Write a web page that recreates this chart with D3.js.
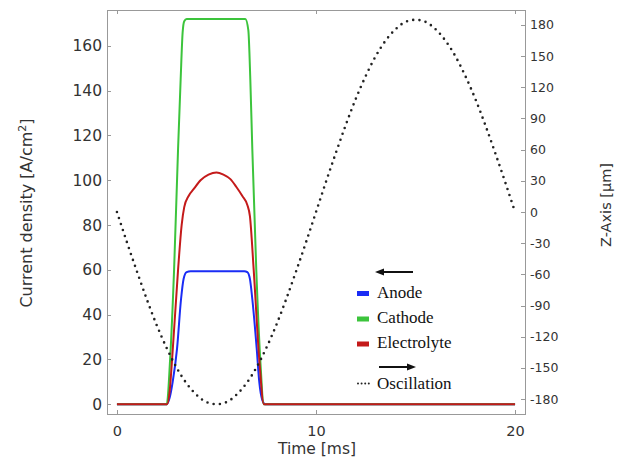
<!DOCTYPE html>
<html>
<head>
<meta charset="utf-8">
<script src="https://cdn.jsdelivr.net/npm/d3@7"></script>
<style>
  html, body { margin: 0; padding: 0; background: #fff; }
  svg { display: block; }
  .tick text { font-family: "DejaVu Sans", sans-serif; fill: #333; }
</style>
</head>
<body>
<svg id="chart" width="622" height="459"></svg>
<script>
// Current density series [A/cm²] over time [ms]
const anodeTime = [0, 2.5, 2.65, 2.8, 3.02, 3.22, 3.35, 3.5, 3.7, 6.4, 6.55, 6.68, 6.8, 7.02, 7.15, 7.3, 7.45, 20];
const anodeValues = [0, 0, 3, 10, 25, 47, 56, 59, 59.4, 59.4, 59, 56, 47, 25, 10, 2, 0, 0];

const cathodeTime = [0, 2.5, 2.67, 2.87, 3.07, 3.2, 3.3, 3.38, 3.5, 6.45, 6.6, 6.7, 6.8, 7.0, 7.2, 7.38, 20];
const cathodeValues = [0, 0, 20, 60, 114, 145, 166, 171, 172, 172, 167, 145, 114, 60, 20, 0, 0];

const electrolyteTime = [0, 2.52, 2.65, 2.77, 3.07, 3.25, 3.38, 3.6, 3.85, 4.2, 4.6, 5.0, 5.35, 5.7, 6.0, 6.3, 6.55, 6.68, 6.87, 7.15, 7.38, 20];
const electrolyteValues = [0, 0, 6, 20, 60, 80, 88, 93, 96, 100, 102.5, 103.5, 102.5, 100.5, 97, 93, 89, 84, 60, 20, 0, 0];

// Electrode oscillation, Z position [µm]
const oscTime = [0, 0.5, 1, 1.5, 2, 2.5, 3, 3.5, 4, 4.5, 5, 5.5, 6, 6.5, 7, 7.5, 8, 8.5, 9, 9.5, 10,
                 10.5, 11, 11.5, 12, 12.5, 13, 13.5, 14, 14.5, 15, 15.5, 16, 16.5, 17, 17.5, 18, 18.5, 19, 19.5, 20];
const oscZ = [0, -29, -57, -84, -109, -131, -150, -165, -176, -183, -185, -183, -176, -165, -150, -131, -109, -84, -57, -29, 0,
              29, 57, 84, 109, 131, 150, 165, 176, 183, 185, 183, 176, 165, 150, 131, 109, 84, 57, 29, 0];

// Tick values
const timeTicks = [0, 10, 20];
const currentTicks = [0, 20, 40, 60, 80, 100, 120, 140, 160];
const zTicks = [-180, -150, -120, -90, -60, -30, 0, 30, 60, 90, 120, 150, 180];

const seriesNames = ["Anode", "Cathode", "Electrolyte"];
const seriesColors = ["#1a2cf5", "#3cc43c", "#c41a1a"];

const svg = d3.select("#chart");
const plot = { left: 107, right: 525, top: 10, bottom: 414 };

const x = d3.scaleLinear().domain([-0.5, 20.5]).range([plot.left, plot.right]);
const y = d3.scaleLinear().domain([-4.33, 176]).range([plot.bottom, plot.top]);
const z = d3.scaleLinear().domain([-194.4, 194.4]).range([plot.bottom, plot.top]);

svg.append("rect").attr("width", 622).attr("height", 459).attr("fill", "#fff");

// Axes with inward ticks
const axisColor = "#999";
const plain = d => String(d);
function styleAxis(g) {
  g.select(".domain").remove();
  g.selectAll(".tick line").attr("stroke", axisColor).attr("shape-rendering", "crispEdges");
}

svg.append("g")
  .attr("transform", `translate(0,${plot.bottom})`)
  .call(d3.axisBottom(x).tickValues(timeTicks).tickFormat(plain).tickSize(-4).tickPadding(12))
  .call(styleAxis)
  .selectAll("text").attr("font-size", 14.5);

svg.append("g")
  .attr("transform", `translate(0,${plot.top})`)
  .call(d3.axisTop(x).tickValues(timeTicks).tickSize(-4).tickFormat(""))
  .call(styleAxis);

svg.append("g")
  .attr("transform", `translate(${plot.left},0)`)
  .call(d3.axisLeft(y).tickValues(currentTicks).tickFormat(plain).tickSize(-4).tickPadding(5))
  .call(styleAxis)
  .selectAll("text").attr("font-size", 15.5);

svg.append("g")
  .attr("transform", `translate(${plot.right},0)`)
  .call(d3.axisRight(z).tickValues(zTicks).tickFormat(plain).tickSize(-4).tickPadding(5))
  .call(styleAxis)
  .selectAll("text").attr("font-size", 12.5);

// Plot frame
svg.append("rect")
  .attr("x", plot.left + 0.5).attr("y", plot.top + 0.5)
  .attr("width", plot.right - plot.left).attr("height", plot.bottom - plot.top)
  .attr("fill", "none").attr("stroke", axisColor).attr("shape-rendering", "crispEdges");

// Axis titles
const title = svg.append("g").attr("font-family", "DejaVu Sans, sans-serif").attr("fill", "#333");
title.append("text")
  .attr("x", 317).attr("y", 454).attr("text-anchor", "middle").attr("font-size", 15.5)
  .text("Time [ms]");

const yTitle = title.append("text")
  .attr("transform", "translate(32,213) rotate(-90)")
  .attr("text-anchor", "middle").attr("font-size", 16);
yTitle.append("tspan").text("Current density [A/cm");
yTitle.append("tspan").attr("font-size", 11).attr("dy", -6).text("2");
yTitle.append("tspan").attr("dy", 6).text("]");

title.append("text")
  .attr("transform", "translate(611,205) rotate(-90)")
  .attr("text-anchor", "middle").attr("font-size", 14.5)
  .text("Z-Axis [µm]");

// Current density curves
const series = [
  { t: anodeTime, v: anodeValues },
  { t: cathodeTime, v: cathodeValues },
  { t: electrolyteTime, v: electrolyteValues }
];
const currentLine = d3.line().x(d => x(d[0])).y(d => y(d[1])).curve(d3.curveMonotoneX);
series.forEach((s, i) => {
  svg.append("path")
    .datum(d3.zip(s.t, s.v))
    .attr("d", currentLine)
    .attr("fill", "none")
    .attr("stroke", seriesColors[i])
    .attr("stroke-width", 2)
    .attr("stroke-linejoin", "round");
});

// Oscillation curve
const oscLine = d3.line().x(d => x(d[0])).y(d => z(d[1])).curve(d3.curveMonotoneX);
svg.append("path")
  .datum(d3.zip(oscTime, oscZ))
  .attr("d", oscLine)
  .attr("fill", "none")
  .attr("stroke", "#222")
  .attr("stroke-width", 2.6)
  .attr("stroke-linecap", "round")
  .attr("stroke-dasharray", "0 6.3");

// Legend
const legend = svg.append("g").attr("font-family", "Liberation Serif, Times New Roman, serif")
  .attr("font-size", 17).attr("fill", "#111");

function arrow(x1, x2, yy) {
  const dir = Math.sign(x2 - x1);
  legend.append("line").attr("x1", x1).attr("x2", x2 - dir * 6).attr("y1", yy).attr("y2", yy)
    .attr("stroke", "#111").attr("stroke-width", 2);
  legend.append("path")
    .attr("d", `M${x2},${yy} L${x2 - dir * 9},${yy - 3.5} L${x2 - dir * 9},${yy + 3.5} Z`)
    .attr("fill", "#111");
}
arrow(413, 375, 272);

const rowY = [293.5, 319, 344];
seriesNames.forEach((name, i) => {
  legend.append("rect").attr("x", 357).attr("y", rowY[i] - 2.5).attr("width", 12).attr("height", 5)
    .attr("fill", seriesColors[i]);
  legend.append("text").attr("x", 377).attr("y", rowY[i] + 4).text(name);
});

arrow(379, 416, 367);

legend.append("line").attr("x1", 358).attr("x2", 369).attr("y1", 383.5).attr("y2", 383.5)
  .attr("stroke", "#222").attr("stroke-width", 2).attr("stroke-linecap", "round")
  .attr("stroke-dasharray", "0 3.6");
legend.append("text").attr("x", 377).attr("y", 388.5).text("Oscillation");
</script>
</body>
</html>
